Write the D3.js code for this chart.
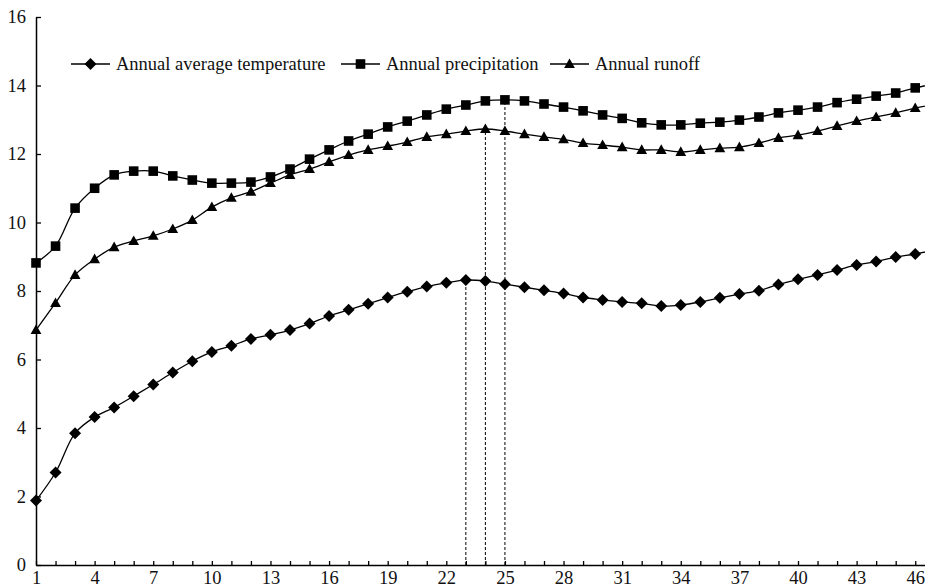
<!DOCTYPE html>
<html>
<head>
<meta charset="utf-8">
<script src="https://cdn.jsdelivr.net/npm/d3@7"></script>
<style>
  body { margin: 0; background: #fff; }
  svg text { font-family: "Liberation Serif", "Times New Roman", serif; fill: #111; }
</style>
</head>
<body>
<div id="chart"></div>
<script>
// x positions 1..46 (47 is just past the right edge, the lines run off the frame)
const years = d3.range(1, 48)

const temperature = [1.88, 2.7, 3.85, 4.32, 4.6, 4.93, 5.27, 5.62, 5.95, 6.22, 6.4, 6.6, 6.72, 6.86, 7.05,
  7.27, 7.45, 7.63, 7.81, 7.98, 8.13, 8.24, 8.32, 8.29, 8.2, 8.11, 8.02, 7.93, 7.81, 7.74,
  7.68, 7.64, 7.56, 7.59, 7.68, 7.8, 7.91, 8.01, 8.19, 8.34, 8.47, 8.61, 8.76, 8.86, 8.99,
  9.08, 9.2]

const precipitation = [8.82, 9.31, 10.42, 11.0, 11.39, 11.5, 11.5, 11.36, 11.24, 11.15, 11.15, 11.18, 11.33, 11.56, 11.85,
  12.12, 12.38, 12.58, 12.79, 12.96, 13.14, 13.31, 13.43, 13.55, 13.58, 13.55, 13.46, 13.37, 13.26, 13.14,
  13.04, 12.91, 12.85, 12.85, 12.9, 12.93, 12.99, 13.08, 13.2, 13.28, 13.37, 13.5, 13.6, 13.69, 13.78,
  13.93, 14.05]

const runoff = [6.86, 7.65, 8.47, 8.93, 9.28, 9.46, 9.61, 9.81, 10.07, 10.45, 10.72, 10.9, 11.15, 11.39, 11.56,
  11.77, 11.97, 12.12, 12.23, 12.35, 12.5, 12.58, 12.67, 12.73, 12.67, 12.58, 12.5, 12.43, 12.32, 12.26,
  12.2, 12.12, 12.12, 12.06, 12.12, 12.17, 12.2, 12.32, 12.47, 12.55, 12.67, 12.82, 12.96, 13.08, 13.2,
  13.34, 13.45]

const seriesNames = ['Annual average temperature', 'Annual precipitation', 'Annual runoff']
const xTickLabels = [1, 4, 7, 10, 13, 16, 19, 22, 25, 28, 31, 34, 37, 40, 43, 46]
const yTicks = [0, 2, 4, 6, 8, 10, 12, 14, 16]
// dashed drop lines: [x, series index]
const dropLines = [[23, 0], [24, 2], [25, 1]]

const width = 925
const height = 588

const svg = d3.select('#chart').append('svg')
  .attr('width', width)
  .attr('height', height)

const x = d3.scaleLinear().domain([1, 46.5]).range([36, 925])
const y = d3.scaleLinear().domain([0, 16]).range([565, 17])

const allSeries = [temperature, precipitation, runoff]

// marker shapes
function markerPath(kind) {
  if (kind === 0) return 'M0,-6L6,0L0,6L-6,0Z'
  if (kind === 1) return 'M-4.8,-4.8H4.8V4.8H-4.8Z'
  return 'M0,-5.6L5.4,4L-5.4,4Z'
}

// drop lines
svg.selectAll('line.drop')
  .data(dropLines)
  .enter().append('line')
  .attr('class', 'drop')
  .attr('x1', d => x(d[0]))
  .attr('x2', d => x(d[0]))
  .attr('y1', y(0))
  .attr('y2', d => y(allSeries[d[1]][d[0] - 1]))
  .attr('stroke', '#000')
  .attr('stroke-width', 1)
  .attr('stroke-dasharray', '3,2')

// axes
const yAxis = d3.axisLeft(y)
  .tickValues(yTicks)
  .tickSizeInner(-5)
  .tickSizeOuter(0)
  .tickPadding(10)

const xAxis = d3.axisBottom(x)
  .tickValues(d3.range(1, 47))
  .tickFormat(d => xTickLabels.includes(d) ? d : '')
  .tickSizeInner(-4)
  .tickSizeOuter(0)
  .tickPadding(6)

const gy = svg.append('g')
  .attr('transform', 'translate(' + x(1) + ',0)')
  .call(yAxis)

const gx = svg.append('g')
  .attr('transform', 'translate(0,' + y(0) + ')')
  .call(xAxis)

;[gx, gy].forEach(g => {
  g.select('.domain').attr('stroke', '#000').attr('stroke-width', 1.5)
  g.selectAll('.tick line').attr('stroke', '#000').attr('stroke-width', 1.3)
  g.selectAll('text').attr('font-size', 18.5).attr('fill', '#111')
    .attr('font-family', '"Liberation Serif", serif')
})

// lines + markers
const line = d3.line()
  .x((d, i) => x(years[i]))
  .y(d => y(d))
  .curve(d3.curveCatmullRom.alpha(0.5))

allSeries.forEach((s, k) => {
  svg.append('path')
    .datum(s)
    .attr('d', line)
    .attr('fill', 'none')
    .attr('stroke', '#000')
    .attr('stroke-width', 1.3)

  svg.selectAll('path.m' + k)
    .data(s)
    .enter().append('path')
    .attr('class', 'm' + k)
    .attr('d', markerPath(k))
    .attr('transform', (d, i) => 'translate(' + x(years[i]) + ',' + y(d) + ')')
    .attr('fill', '#000')
})

// legend
const legendX = [71, 341, 550]
const legendY = 64
const legend = svg.selectAll('g.legend')
  .data(seriesNames)
  .enter().append('g')
  .attr('class', 'legend')
  .attr('transform', (d, i) => 'translate(' + legendX[i] + ',' + legendY + ')')

legend.append('line')
  .attr('x1', 0).attr('x2', 39)
  .attr('stroke', '#000').attr('stroke-width', 1.3)
legend.append('path')
  .attr('d', (d, i) => markerPath(i))
  .attr('transform', 'translate(19.5,0)')
  .attr('fill', '#000')
legend.append('text')
  .attr('x', 45)
  .attr('dy', '0.33em')
  .attr('font-size', 18.5)
  .text(d => d)
</script>
</body>
</html>
